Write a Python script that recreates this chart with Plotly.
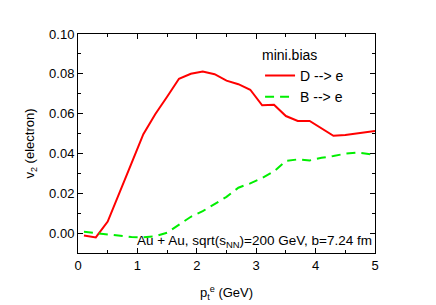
import plotly.graph_objects as go

pt = [0.1, 0.3, 0.5, 0.7, 0.9, 1.1, 1.3, 1.5, 1.7, 1.9, 2.1, 2.3, 2.5, 2.7, 2.9,
      3.1, 3.3, 3.5, 3.7, 3.9, 4.1, 4.3, 4.5, 4.7, 4.9, 5.0]
v2_D = [-0.0012, -0.0022, 0.0058, 0.020, 0.035, 0.0497, 0.0597, 0.0685, 0.0775, 0.0800,
        0.0812, 0.0798, 0.0766, 0.0748, 0.0720, 0.0642, 0.0645, 0.0588, 0.0563, 0.0563,
        0.0528, 0.0489, 0.0493, 0.0501, 0.0511, 0.0513]
v2_B = [0.0007, 0.0000, -0.0006, -0.0012, -0.0020, -0.0021, -0.0016, 0.0002, 0.0043, 0.0082,
        0.0110, 0.0148, 0.0182, 0.0228, 0.0250, 0.0277, 0.0310, 0.0363, 0.0370, 0.0365,
        0.0378, 0.0387, 0.0399, 0.0405, 0.0395, 0.0393]

font = "Liberation Sans, Arial, sans-serif"

fig = go.Figure()
fig.add_trace(go.Scatter(x=pt, y=v2_D, mode="lines", name="D --> e",
                         line=dict(color="#ff0000", width=2)))
fig.add_trace(go.Scatter(x=pt, y=v2_B, mode="lines", name="B --> e",
                         line=dict(color="#00ee00", width=2, dash="9px,6px")))

fig.add_annotation(x=1, y=0, xref="paper", yref="paper", xanchor="right", yanchor="bottom",
                   xshift=-1, yshift=1, showarrow=False,
                   text="Au + Au, sqrt(s<sub>NN</sub>)=200 GeV, b=7.24 fm",
                   font=dict(size=13.5, color="black", family=font))

axis_common = dict(showgrid=False, zeroline=False, showline=True, linecolor="black", linewidth=1,
                   mirror="allticks", ticks="inside", ticklen=5, tickcolor="black",
                   automargin=False,
                   tickfont=dict(size=13, color="black", family=font))

fig.update_layout(
    width=436, height=305,
    margin=dict(l=78, r=61, t=34, b=52),
    paper_bgcolor="white", plot_bgcolor="white",
    showlegend=True,
    legend=dict(x=0.613, y=0.965, xanchor="left", yanchor="top", bgcolor="rgba(0,0,0,0)",
                title=dict(text="mini.bias", font=dict(size=14, color="black", family=font)),
                font=dict(size=14, color="black", family=font),
                itemwidth=30, tracegroupgap=0),
    xaxis=dict(range=[0, 5], dtick=1, tick0=0,
               minor=dict(dtick=0.5, ticks="inside", ticklen=3, tickcolor="black"),
               title=dict(text="p<sub>t</sub><sup>e</sup> (GeV)", standoff=16,
                          font=dict(size=13, color="black", family=font)),
               **axis_common),
    yaxis=dict(range=[-0.01, 0.10], dtick=0.02, tick0=0, tickformat=".2f",
               minor=dict(dtick=0.01, ticks="inside", ticklen=3, tickcolor="black"),
               title=dict(text="v<sub>2</sub> (electron)", standoff=11,
                          font=dict(size=13, color="black", family=font)),
               **axis_common),
)

fig.write_html("out.html", config={"displayModeBar": False},
               post_script="document.body.style.margin='0';document.body.style.overflow='hidden';")
